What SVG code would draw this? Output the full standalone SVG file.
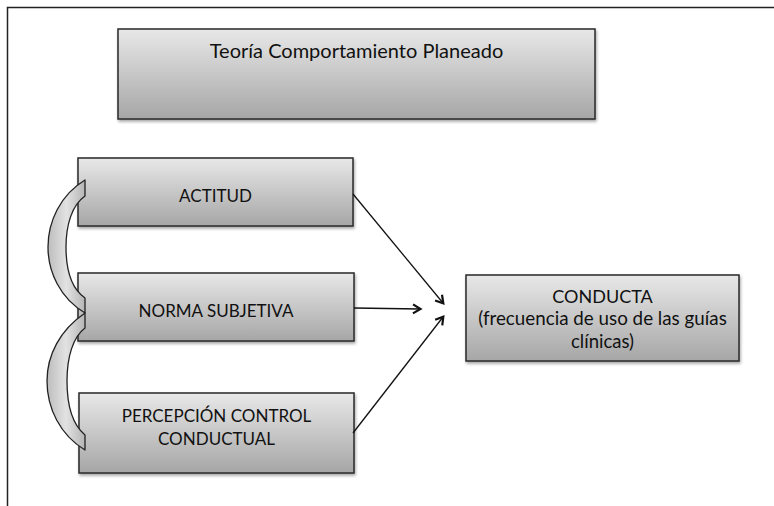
<svg xmlns="http://www.w3.org/2000/svg" width="774" height="506" viewBox="0 0 774 506">
  <style>
    .box { fill: url(#boxGrad); stroke: #2a2a2a; stroke-width: 1.5; filter: url(#shadow); }
    .lbl { font-family: Lato, "Liberation Sans", Arial, sans-serif; fill: #111; text-anchor: middle; }
    .brk { fill: url(#brkGrad); stroke: #222; stroke-width: 1.3; stroke-linejoin: round; }
    .conn { stroke: #111; stroke-width: 1.3; fill: none; marker-end: url(#arrow); }
    .frame { stroke: #222; stroke-width: 1.5; fill: none; }
  </style>
  <defs>
    <linearGradient id="boxGrad" x1="0" y1="0" x2="0" y2="1">
      <stop offset="0" stop-color="#e8e8e8"/>
      <stop offset="1" stop-color="#a6a6a6"/>
    </linearGradient>
    <linearGradient id="brkGrad" x1="0" y1="0" x2="1" y2="0">
      <stop offset="0" stop-color="#bdbdbd"/>
      <stop offset="0.5" stop-color="#e2e2e2"/>
      <stop offset="1" stop-color="#b5b5b5"/>
    </linearGradient>
    <filter id="shadow" x="-5%" y="-10%" width="110%" height="130%">
      <feDropShadow dx="1" dy="2" stdDeviation="1.5" flood-color="#000" flood-opacity="0.35"/>
    </filter>
    <marker id="arrow" markerWidth="12" markerHeight="12" refX="9" refY="6" orient="auto" markerUnits="userSpaceOnUse">
      <path d="M2,1.5 L9.5,6 L2,10.5" fill="none" stroke="#111" stroke-width="2.2" stroke-linejoin="miter"/>
    </marker>
  </defs>

  <rect width="774" height="506" fill="#ffffff"/>
  <path class="frame" d="M7.5,506 L7.5,7.5 L774,7.5"/>

  <g id="title">
    <rect class="box" x="118" y="29" width="477" height="90"/>
    <text class="lbl" x="356.5" y="58" font-size="20">Teoría Comportamiento Planeado</text>
  </g>

  <g id="actitud">
    <rect class="box" x="78" y="158" width="275" height="68"/>
    <text class="lbl" x="215.5" y="202" font-size="17">ACTITUD</text>
  </g>

  <g id="norma">
    <rect class="box" x="78" y="273" width="276" height="68"/>
    <text class="lbl" x="216" y="317" font-size="17">NORMA SUBJETIVA</text>
  </g>

  <g id="percepcion">
    <rect class="box" x="79" y="393" width="275" height="80"/>
    <text class="lbl" x="216.5" y="422" font-size="17">PERCEPCIÓN CONTROL</text>
    <text class="lbl" x="216.5" y="445" font-size="17">CONDUCTUAL</text>
  </g>

  <g id="conducta">
    <rect class="box" x="466" y="275" width="273" height="86"/>
    <text class="lbl" x="602.5" y="303" font-size="18">CONDUCTA</text>
    <text class="lbl" x="602.5" y="325" font-size="18.8">(frecuencia de uso de las guías</text>
    <text class="lbl" x="602.5" y="348" font-size="18.5">clínicas)</text>
  </g>

  <g id="bracket-actitud-norma">
    <path class="brk" d="M85,180 C60,195 48,222 48,247 C48,272 60,298 85,313 L85,298 C72,289 66,270 66,247 C66,225 72,205 85,196 Z"/>
  </g>
  <g id="bracket-norma-percepcion">
    <path class="brk" d="M85,313 C60,330 47,355 47,381 C47,408 60,435 85,450 L85,435 C73,425 67,405 67,381 C67,357 73,337 85,328 Z"/>
  </g>

  <g id="connectors">
    <line class="conn" x1="353" y1="194" x2="443" y2="303"/>
    <line class="conn" x1="354" y1="308" x2="420" y2="309"/>
    <line class="conn" x1="353" y1="433" x2="443" y2="317"/>
  </g>
</svg>
